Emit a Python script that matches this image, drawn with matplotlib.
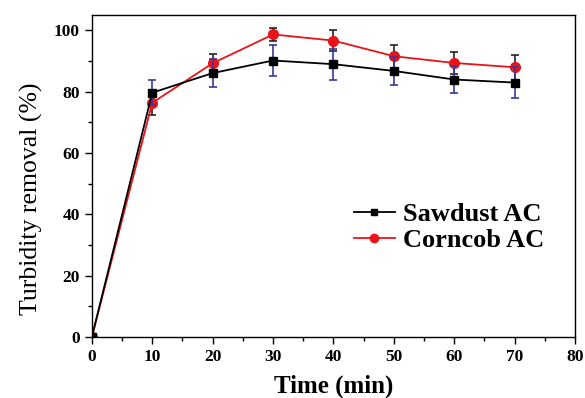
import matplotlib
matplotlib.use("Agg")
import matplotlib.pyplot as plt
from matplotlib.ticker import MultipleLocator
from matplotlib.lines import Line2D

time = [0, 10, 20, 30, 40, 50, 60, 70]
sawdust = [0, 79.7, 86.1, 90.2, 89.0, 86.8, 84.0, 83.0]
sawdust_err = [0, 4.0, 4.7, 5.2, 5.0, 4.5, 4.4, 5.0]
corncob = [0, 76.4, 89.3, 98.7, 96.7, 91.6, 89.4, 88.0]
corncob_err = [0, 3.9, 2.9, 2.2, 3.5, 3.7, 3.5, 4.1]

plt.rcParams['font.family'] = ['Liberation Serif', 'DejaVu Serif']
plt.rcParams['font.weight'] = 'bold'

fig = plt.figure(figsize=(5.85, 3.98), dpi=100)
ax = fig.add_axes([0.157, 0.153, 0.826, 0.809])

ax.errorbar(time, sawdust, yerr=sawdust_err, color='black', ecolor='#3a3a99',
            elinewidth=1.2, capsize=3, capthick=1.2, marker='s', markersize=6,
            linewidth=1.3, zorder=3)
ax.errorbar(time, corncob, yerr=corncob_err, color='#e8141a', ecolor='#222222',
            elinewidth=1.2, capsize=3, capthick=1.2, marker='o', markersize=7,
            linewidth=1.3, zorder=2)

ax.set_xlim(0, 80)
ax.set_ylim(0, 105)
ax.xaxis.set_major_locator(MultipleLocator(10))
ax.xaxis.set_minor_locator(MultipleLocator(5))
ax.yaxis.set_major_locator(MultipleLocator(20))
ax.yaxis.set_minor_locator(MultipleLocator(10))
ax.tick_params(which='major', direction='out', length=5, width=1, labelsize=12.5)
ax.tick_params(which='minor', direction='out', length=3, width=1)
for lab in ax.get_xticklabels() + ax.get_yticklabels():
    lab.set_fontweight('bold')
for s in ax.spines.values():
    s.set_linewidth(1)

ax.set_xlabel('Time (min)', fontsize=18, fontweight='bold', labelpad=7)
ax.set_ylabel('Turbidity removal (%)', fontsize=18.5, fontweight='normal')
ax.yaxis.set_label_coords(-0.102, 0.43)

handles = [
    Line2D([], [], color='black', marker='s', markersize=5, linewidth=1.3),
    Line2D([], [], color='#e8141a', marker='o', markersize=6, linewidth=1.3),
]
labels = ['Sawdust AC', 'Corncob AC']
leg = ax.legend(handles, labels, loc='center left', bbox_to_anchor=(0.493, 0.34),
                frameon=False, prop={'size': 19, 'weight': 'bold'},
                handlelength=1.55, handletextpad=0.3, labelspacing=0.1)

fig.savefig('out.png', dpi=100)
